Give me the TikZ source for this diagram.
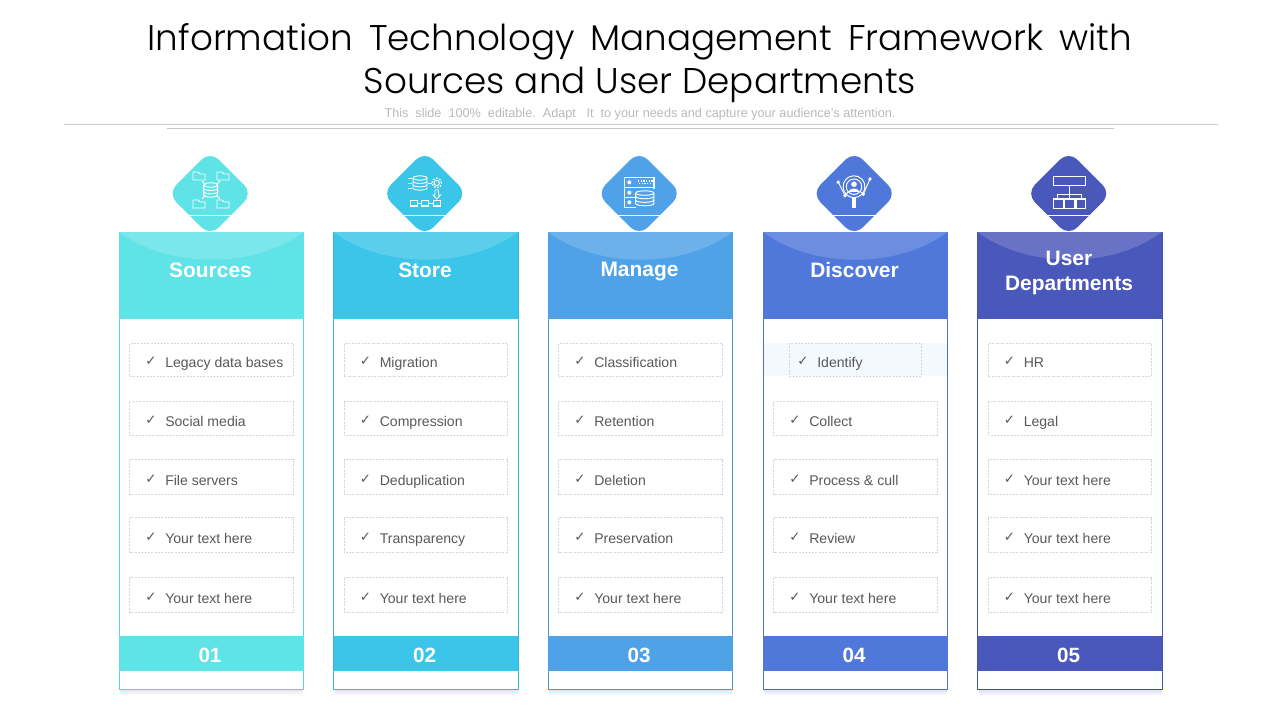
\documentclass[tikz,border=0pt]{standalone}
\usepackage{fontspec}
\setmainfont{Liberation Sans}
\newfontfamily\titlefont{Poppins Light}
\newfontfamily\chkfont{DejaVu Sans}
\definecolor{colA}{HTML}{5FE3E7}
\definecolor{colB}{HTML}{3AC5E9}
\definecolor{colC}{HTML}{50A2E8}
\definecolor{colD}{HTML}{5078DA}
\definecolor{colE}{HTML}{4A57BB}
\definecolor{itemtxt}{HTML}{595959}
\definecolor{dashgray}{HTML}{D6D6D6}
\definecolor{hilite}{HTML}{F3F9FE}
\tikzset{
  x=0.75pt,y=-0.75pt,
  titletext/.style={font=\titlefont\fontsize{26.8pt}{32pt}\selectfont,text=black,inner sep=0,anchor=center},
  subtext/.style={font=\fontsize{9.5pt}{11pt}\selectfont,text=black!27,inner sep=0,anchor=center},
  headtext/.style={font=\bfseries\fontsize{15.7pt}{18.8pt}\selectfont,text=white,align=center,inner sep=0,anchor=center},
  numtext/.style={font=\bfseries\fontsize{15.5pt}{18pt}\selectfont,text=white,inner sep=0,anchor=center},
  itembox/.style={draw=dashgray,dash pattern=on 1.5pt off 1pt,line width=0.45pt},
  itemtext/.style={font=\fontsize{10.55pt}{12pt}\selectfont,text=itemtxt,inner sep=0,anchor=base west},
  chktext/.style={font=\chkfont\fontsize{10pt}{11pt}\selectfont,text=itemtxt,inner sep=0,anchor=center},
  ic/.style={draw=white,line width=0.72pt,fill=none},
  folder/.pic={\draw[ic] (-6,4)--(-6,-4)--(-1,-4)--(1,-2)--(6,-2)--(6,4)--cycle;},
  cyl/.pic={\draw[ic] (-7,-5) arc[start angle=180,end angle=540,x radius=5.25pt,y radius=1.6pt];
    \draw[ic] (-7,-5)--(-7,5) arc[start angle=180,end angle=360,x radius=5.25pt,y radius=1.6pt]--(7,-5);
    \draw[ic] (-7,-1.7) arc[start angle=180,end angle=360,x radius=5.25pt,y radius=1.6pt];
    \draw[ic] (-7,1.7) arc[start angle=180,end angle=360,x radius=5.25pt,y radius=1.6pt];},
}
\begin{document}
\begin{tikzpicture}
\useasboundingbox (0,0) rectangle (1280,720);
\fill[white] (0,0) rectangle (1280,720);
\node[titletext] (title1) at (640,41.5) {\spaceskip=12pt Information Technology Management Framework with};
\node[titletext] (title2) at (640,84.5) {Sources and User Departments};
\node[subtext] (sub) at (640,114.5) {This\ \ slide\ \ 100\%\ \ editable.\ \ Adapt\ \ \ It\ \ to\ your\ needs\ and\ capture\ your\ audience’s\ attention.};
\draw[black!20,line width=0.6pt] (64,124.5)--(1218,124.5);
\draw[black!22,line width=0.6pt] (167,128.5)--(1114,128.5);
\foreach \x/\cc/\n/\h/\hy/\ia/\ib/\ic/\id/\ie in {
  119/colA/01/Sources/270/Legacy data bases/Social media/File servers/Your text here/Your text here,
  333.5/colB/02/Store/270/Migration/Compression/Deduplication/Transparency/Your text here,
  548/colC/03/Manage/272/Classification/Retention/Deletion/Preservation/Your text here,
  763/colD/04/Discover/270/Identify/Collect/Process \& cull/Review/Your text here,
  977.5/colE/05/User\\Departments/273/HR/Legal/Your text here/Your text here/Your text here}{
  \foreach \s in {2,4,6}{\fill[\cc!50!black,opacity=0.05] (\x+1,689) rectangle (\x+184,689+\s);}
  \draw[\cc!94!black,fill=white,line width=0.7pt] (\x+0.3,232) rectangle (\x+184.5,689);
  \fill[\cc] (\x,232) rectangle (\x+184.5,319);
  \fill[white,opacity=0.17] (\x,232) .. controls (\x+50,269) and (\x+135,269) .. (\x+184.5,232) -- cycle;
  \pgfmathsetmacro\dc{\x+91.2}
  \fill[\cc,rounded corners=9pt] (\dc,151) -- (\dc+42.5,193.5) -- (\dc,236) -- (\dc-42.5,193.5) -- cycle;
  \draw[white,line width=0.6pt] (\dc-26,215) -- (\dc+26,215);
  \fill[\cc] (\x,636) rectangle (\x+184.5,671);
  \node[numtext] (num-\n) at (\x+91,655) {\n};
  \node[headtext] (head-\n) at (\x+91.5,\hy) {\h};
  \foreach \ta/\tb/\base/\lbl/\k in {344/377/367/\ia/1,402/436/426/\ib/2,460/495/485/\ic/3,518/553/543/\id/4,578/613/603/\ie/5}{
    \pgfmathsetmacro\mycheck{\base-6}
    \ifnum\n\k=41\relax
      \fill[hilite] (\x+1,\ta-1) rectangle (\x+184,\tb-1);
      \draw[itembox] (\x+26,\ta-1) rectangle (\x+158.5,\tb-1);
      \node[chktext] (chk-\n-\k) at (\x+40,\mycheck) {✓};
      \node[itemtext] (item-\n-\k) at (\x+54,\base) {\lbl};
    \else
      \draw[itembox] (\x+10.5,\ta-0.5) rectangle (\x+174,\tb-0.5);
      \node[chktext] (chk-\n-\k) at (\x+32,\mycheck) {✓};
      \node[itemtext] (item-\n-\k) at (\x+46,\base) {\lbl};
    \fi
  }
}
% icon 1
\pic at (210.7,190) {cyl};
\pic at (199,176) {folder};
\pic at (223,176) {folder};
\pic at (199,204) {folder};
\pic at (223,204) {folder};
\draw[ic] (202,181)--(205.5,184.5);
\draw[ic] (220,181)--(216.5,184.5);
\draw[ic] (202,199)--(205.5,195.5);
\draw[ic] (220,199)--(216.5,195.5);
% icon 2
\pic at (420,183) {cyl};
\foreach \yy in {178,183,188}{\draw[ic] (408,\yy)--(412,\yy);}
\draw[ic] (428,183)--(431.5,183);
\draw[ic] (436.7,183) circle[radius=2pt];
\draw[white,line width=1pt,dash pattern=on 1.2pt off 1.2pt] (436.7,183) circle[radius=3.6pt];
\draw[ic] (435,190)--(438.5,190)--(438.5,195)--(440.5,195)--(436.7,199)--(433,195)--(435,195)--cycle;
\foreach \xx in {414,425,436.7}{\draw[white,line width=0.9pt] (\xx-3.5,200.5) rectangle (\xx+3.5,206);}
\draw[ic] (417.5,203.3)--(421.5,203.3);
\draw[ic] (428.5,203.3)--(433,203.3);
% icon 3
\draw[white,line width=0.8pt] (635.7,207.7)--(624.3,207.7)--(624.3,177.3)--(654,177.3)--(654,189);
\draw[white,line width=0.8pt] (624.3,187.3)--(654,187.3);
\draw[white,line width=0.8pt] (624.3,197.3)--(635.7,197.3);
\pic[xscale=1.3,yscale=1.05] at (644.8,198.3) {cyl};
\foreach \yy in {182.3,192.7,202.3}{\fill[white] (629.3,\yy) circle[radius=1.5pt];}
\draw[white,line width=0.8pt,dash pattern=on 1pt off 1pt] (638,181)--(653,181);
\draw[white,line width=0.8pt,dash pattern=on 1pt off 1pt] (639,183.5)--(651,183.5);
% icon 4
\draw[ic] (854,186.7) circle[radius=8.2pt];
\draw[ic] (854,186.7) circle[radius=5.8pt];
\fill[white] (854,184.2) circle[radius=2.1pt];
\fill[white] (848.5,192) .. controls (849,187.5) and (859,187.5) .. (859.5,192) -- cycle;
\draw[white,line width=2.4pt] (854,197)--(854,207.7);
\draw[ic] (838.3,182.3)--(845,195.7)--(848,192);
\draw[ic] (870,179)--(863.3,194.3)--(860,191);
\foreach \pa/\pb in {838.3/182.3,845/195.7,870/179,863.3/194.3}{\fill[white] (\pa,\pb) circle[radius=1.4pt];}
% icon 5
\draw[white,line width=0.8pt] (1053.3,176.7) rectangle (1085.7,185.7);
\draw[white,line width=0.7pt] (1069.5,185.7)--(1069.5,199);
\draw[white,line width=0.7pt] (1057.3,199)--(1057.3,194.3)--(1081.7,194.3)--(1081.7,199);
\draw[white,line width=0.8pt] (1053.3,199) rectangle (1063.3,208.3);
\draw[white,line width=0.8pt] (1064.7,199) rectangle (1074.3,208.3);
\draw[white,line width=0.8pt] (1076,199) rectangle (1085.7,208.3);
\end{tikzpicture}
\end{document}
